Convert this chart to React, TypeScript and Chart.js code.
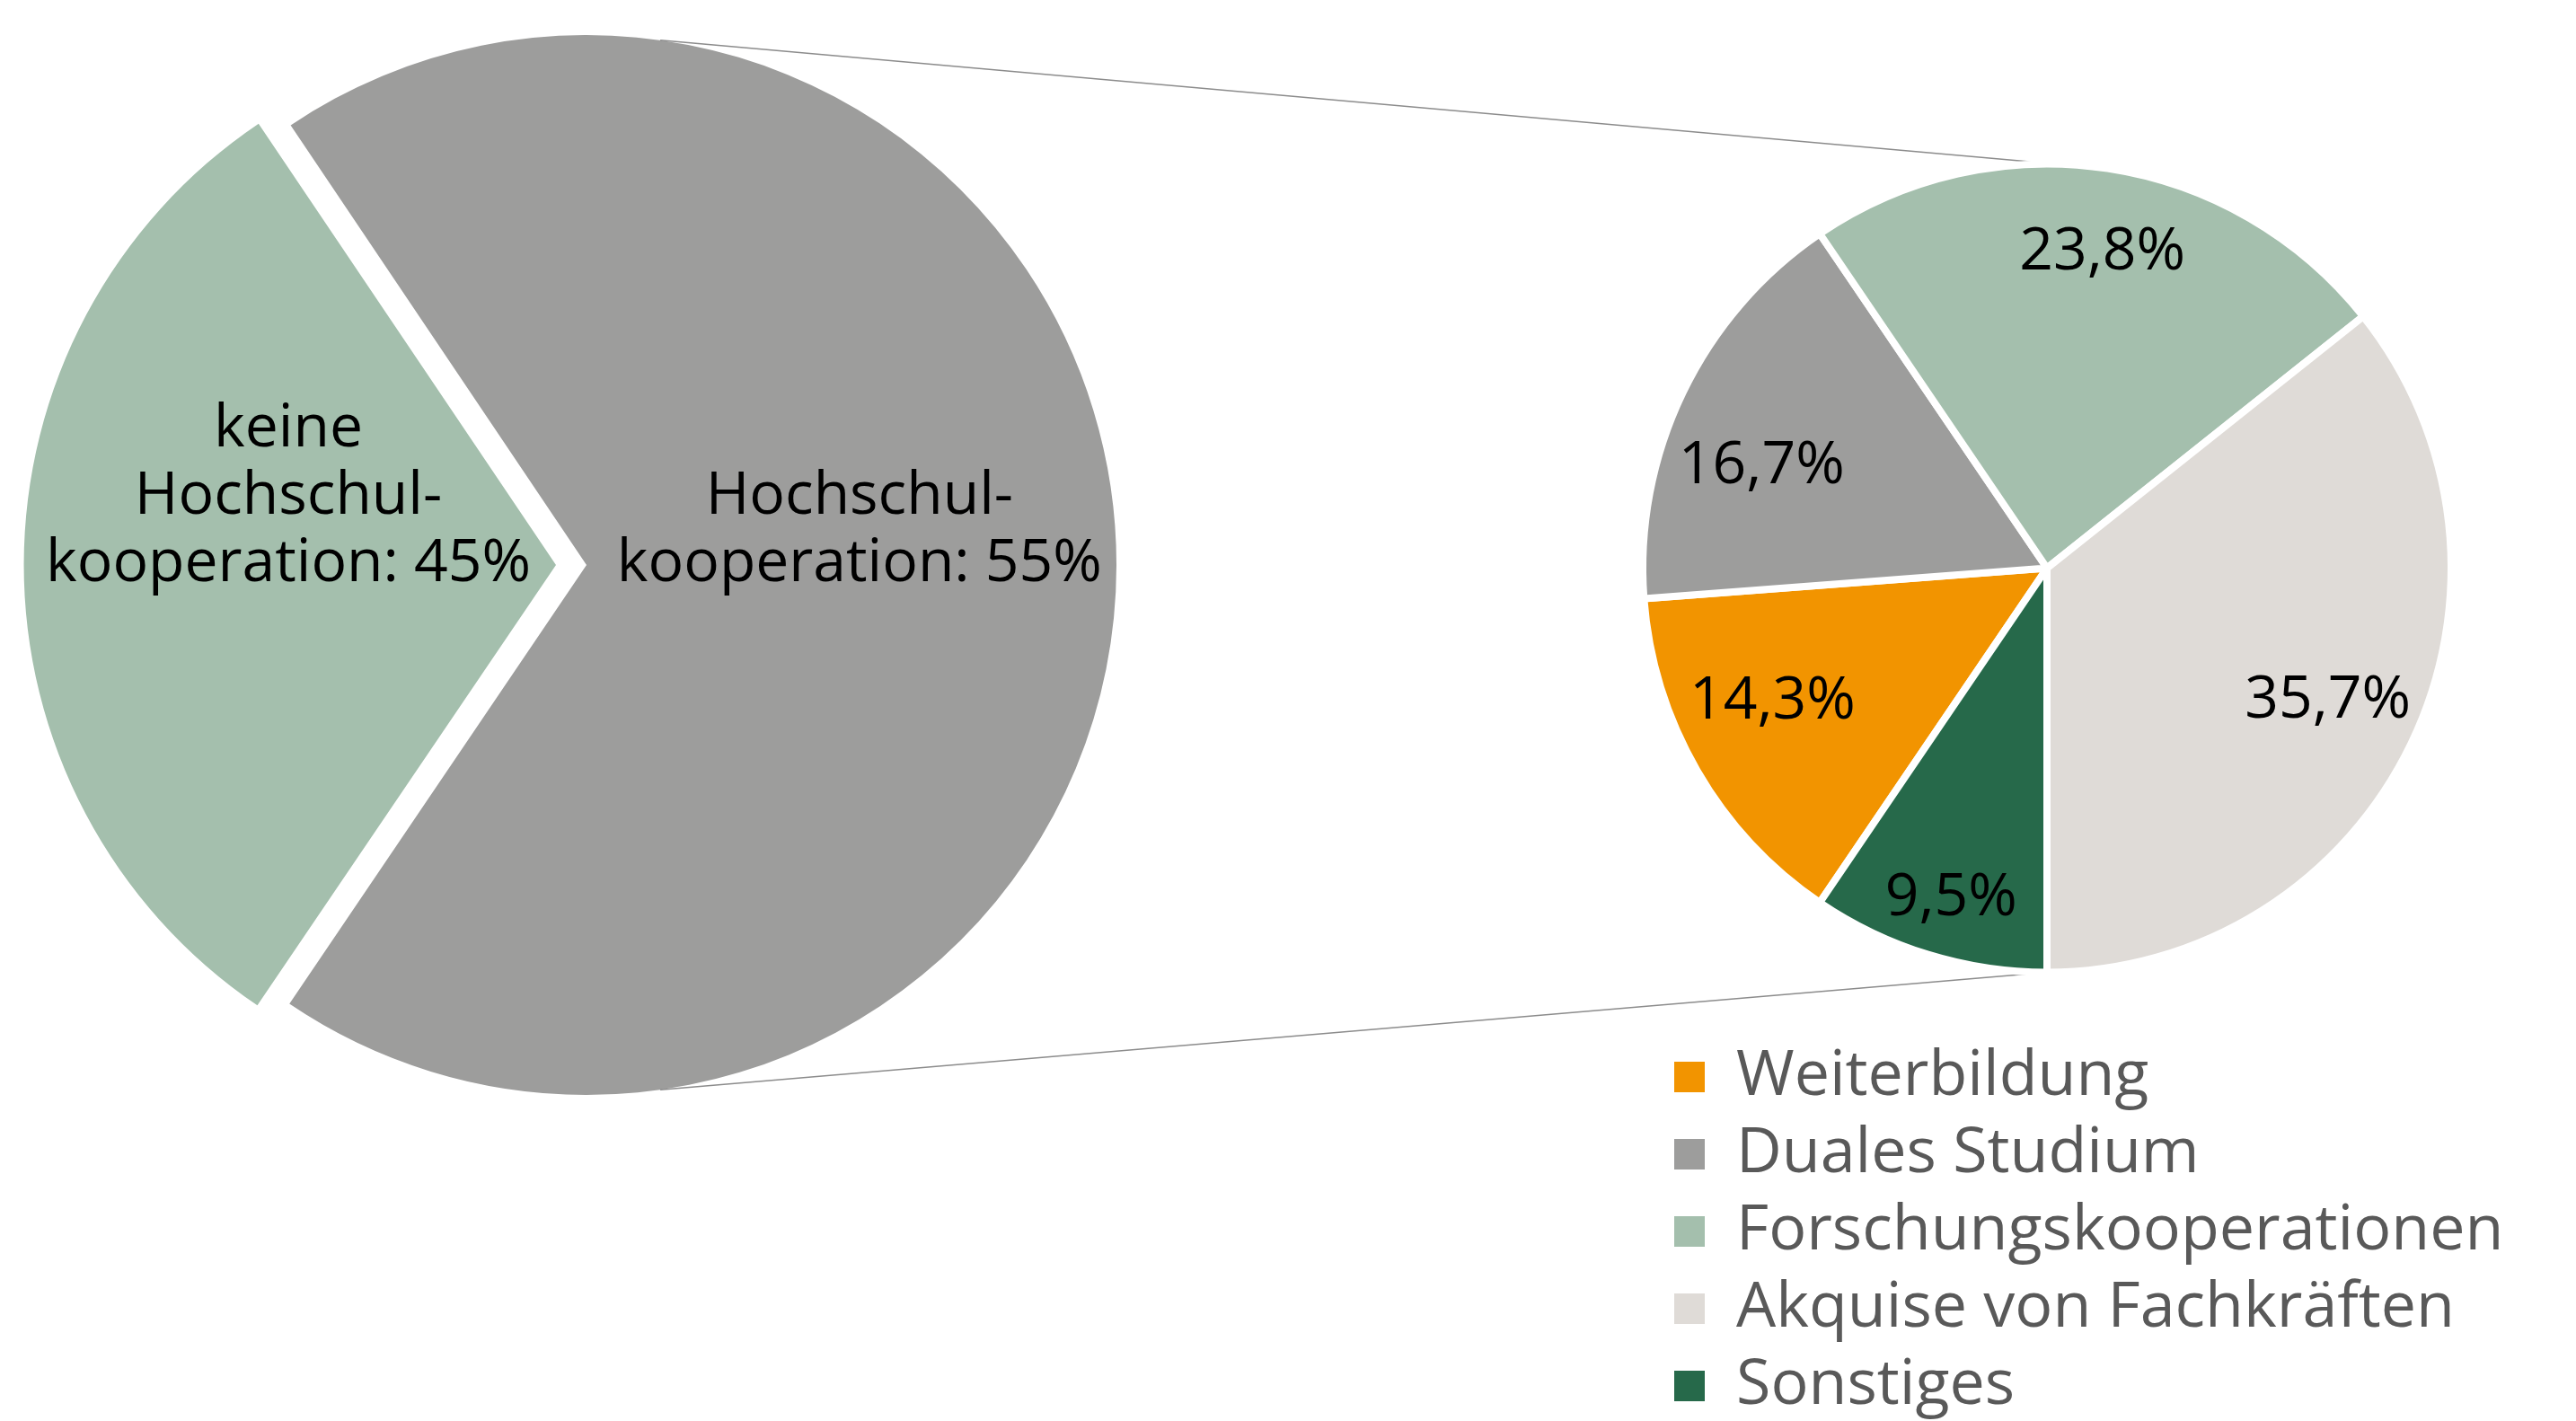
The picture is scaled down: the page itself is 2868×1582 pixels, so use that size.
import { useEffect, useRef } from "react";
import { Chart, registerables } from "chart.js";

Chart.register(...registerables);

// ---------- data ----------
const overviewCategories = ["keine Hochschulkooperation", "Hochschulkooperation"];
const overviewShares = [45, 55]; // percentages printed in the labels
const overviewSliceSizes = [31.1, 68.9]; // slice sizes as drawn in the picture
const overviewLabelLines = [
  ["keine", "Hochschul-", "kooperation:"],
  ["Hochschul-", "kooperation:"],
];

const detailCategories = [
  "Weiterbildung",
  "Duales Studium",
  "Forschungskooperationen",
  "Akquise von Fachkräften",
  "Sonstiges",
];
const detailValues = [14.3, 16.7, 23.8, 35.7, 9.5];

// ---------- styles ----------
const overviewColors = ["#a4bfad", "#9d9d9c"];
const detailColors = ["#f29400", "#9d9d9c", "#a4bfad", "#dfdbd7", "#26694a"];
const FONT = "'Open Sans', 'Noto Sans', sans-serif";
const W = 2868;
const H = 1582;

// label placement (fraction of radius, angular nudge in degrees)
const overviewLabelRadius = [0.505, 0.515];
const detailLabelPlacement = [
  { f: 0.751, da: 4.8 },
  { f: 0.753, da: -5.4 },
  { f: 0.802, da: 1.2 },
  { f: 0.764, da: -1.2 },
  { f: 0.84, da: -0.7 },
];

const fmt = (v: number) => v.toFixed(1).replace(".", ",") + "%";

function pointAt(cx: number, cy: number, r: number, deg: number) {
  const a = (deg * Math.PI) / 180;
  return { x: cx + r * Math.sin(a), y: cy - r * Math.cos(a) };
}

export default function App() {
  const bigRef = useRef<HTMLCanvasElement | null>(null);
  const smallRef = useRef<HTMLCanvasElement | null>(null);

  useEffect(() => {
    if (!bigRef.current || !smallRef.current) return;
    Chart.defaults.font.family = FONT;

    const overviewLabels = {
      id: "overviewLabels",
      afterDatasetsDraw(chart: any) {
        const ctx = chart.ctx;
        const meta = chart.getDatasetMeta(0);
        ctx.save();
        ctx.font = `66px ${FONT}`;
        ctx.fillStyle = "#000";
        ctx.textAlign = "center";
        ctx.textBaseline = "alphabetic";
        meta.data.forEach((arc: any, i: number) => {
          const mid = (arc.startAngle + arc.endAngle) / 2;
          const shift = (arc.options.offset || 0) / 4;
          const r = arc.outerRadius * overviewLabelRadius[i];
          const ax = arc.x + Math.cos(mid) * (shift + r);
          const ay = arc.y + Math.sin(mid) * (shift + r);
          const lines = overviewLabelLines[i].slice();
          lines[lines.length - 1] = lines[lines.length - 1] + " " + overviewShares[i] + "%";
          lines.forEach((t, k) => {
            ctx.fillText(t, ax, ay + 18 - (lines.length - 1 - k) * 75);
          });
        });
        ctx.restore();
      },
    };

    const big = new Chart(bigRef.current, {
      type: "pie",
      data: {
        labels: overviewCategories,
        datasets: [
          {
            data: overviewSliceSizes,
            backgroundColor: overviewColors,
            borderWidth: 0,
            offset: [136, 0],
            radius: 590,
            clip: false,
          } as any,
        ],
      },
      options: {
        responsive: false,
        animation: false,
        events: [],
        rotation: 214.1,
        layout: { padding: { left: 63, right: 1625, top: 39, bottom: 363 } },
        plugins: { legend: { display: false }, tooltip: { enabled: false } },
      } as any,
      plugins: [overviewLabels],
    });

    const connectors = {
      id: "connectors",
      beforeDatasetsDraw(chart: any) {
        const bm = big.getDatasetMeta(0);
        const grey: any = bm.data[1];
        const sm = chart.getDatasetMeta(0);
        const s: any = sm.data[0];
        if (!grey || !s) return;
        const gShift = (grey.options.offset || 0) / 4;
        const gx = grey.x + gShift;
        const gy = grey.y;
        const gr = grey.outerRadius;
        const p1 = pointAt(gx, gy, gr, 8);
        const p2 = pointAt(s.x, s.y, s.outerRadius, 1.5);
        const p3 = pointAt(gx, gy, gr, 172);
        const p4 = pointAt(s.x, s.y, s.outerRadius, 180);
        const ctx = chart.ctx;
        ctx.save();
        ctx.strokeStyle = "#8c8c8c";
        ctx.lineWidth = 1.5;
        ctx.beginPath();
        ctx.moveTo(p1.x, p1.y);
        ctx.lineTo(p2.x, p2.y);
        ctx.moveTo(p3.x, p3.y);
        ctx.lineTo(p4.x, p4.y);
        ctx.stroke();
        ctx.restore();
      },
    };

    const detailLabels = {
      id: "detailLabels",
      afterDatasetsDraw(chart: any) {
        const ctx = chart.ctx;
        const meta = chart.getDatasetMeta(0);
        ctx.save();
        ctx.font = `66px ${FONT}`;
        ctx.fillStyle = "#000";
        ctx.textAlign = "center";
        ctx.textBaseline = "alphabetic";
        meta.data.forEach((arc: any, i: number) => {
          const p = detailLabelPlacement[i];
          const mid = (arc.startAngle + arc.endAngle) / 2 + (p.da * Math.PI) / 180;
          const r = arc.outerRadius * p.f;
          const ax = arc.x + Math.cos(mid) * r;
          const ay = arc.y + Math.sin(mid) * r;
          ctx.fillText(fmt(detailValues[i]), ax, ay + 23.5);
        });
        ctx.restore();
      },
    };

    const defaultGen = (Chart as any).overrides.pie.plugins.legend.labels.generateLabels;

    const small = new Chart(smallRef.current, {
      type: "pie",
      data: {
        labels: detailCategories,
        datasets: [
          {
            data: detailValues,
            backgroundColor: detailColors,
            borderColor: "#ffffff",
            borderWidth: 8,
            radius: 450,
            clip: false,
          } as any,
        ],
      },
      options: {
        responsive: false,
        animation: false,
        events: [],
        rotation: 214.2,
        layout: { padding: { left: 1848, right: 0, top: 117, bottom: 12 } },
        plugins: {
          tooltip: { enabled: false },
          // empty spacer on the right so the legend may run wider than the pie area
          title: {
            display: true,
            text: " ",
            position: "right",
            fullSize: false,
            font: { size: 100, lineHeight: 1.2 },
            padding: 19,
          },
          legend: {
            display: true,
            position: "bottom",
            align: "start",
            fullSize: true,
            labels: {
              boxWidth: 34,
              boxHeight: 34,
              padding: 16,
              color: "#595959",
              font: { family: FONT, size: 70 },
              generateLabels: (chart: any) =>
                defaultGen(chart).map((l: any) => ({
                  ...l,
                  lineWidth: 0,
                  strokeStyle: "rgba(0,0,0,0)",
                })),
            },
          },
        },
      } as any,
      plugins: [connectors, detailLabels],
    });

    let alive = true;
    if ((document as any).fonts && (document as any).fonts.load) {
      (document as any).fonts.load(`66px 'Open Sans'`).then(() => {
        if (!alive) return;
        big.update();
        small.update();
      });
    }

    return () => {
      alive = false;
      small.destroy();
      big.destroy();
    };
  }, []);

  return (
    <div
      style={{
        position: "fixed",
        left: 0,
        top: 0,
        width: W,
        height: H,
        overflow: "hidden",
        background: "#ffffff",
      }}
    >
      <canvas
        ref={bigRef}
        width={W}
        height={H}
        style={{ position: "absolute", left: 0, top: 0 }}
      />
      <canvas
        ref={smallRef}
        width={W}
        height={1600}
        style={{ position: "absolute", left: 0, top: 0 }}
      />
    </div>
  );
}
